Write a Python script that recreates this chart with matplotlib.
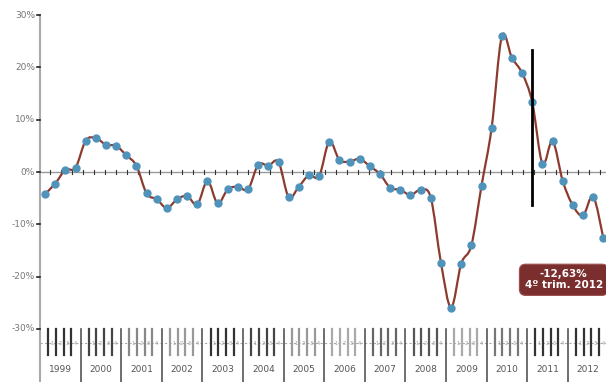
import matplotlib
matplotlib.use("Agg")
import matplotlib.pyplot as plt
from matplotlib.path import Path
from matplotlib.patches import PathPatch
import numpy as np

# Données trimestrielles (variation en %), 1999 T1 -> 2012 T4
years = [1999, 2000, 2001, 2002, 2003, 2004, 2005, 2006,
         2007, 2008, 2009, 2010, 2011, 2012]
values = [-4.2, -2.2, 0.4, 0.8,
          6.0, 6.5, 5.2, 5.0,
          3.2, 1.2, -4.1, -5.2,
          -6.9, -5.2, -4.6, -6.2,
          -1.7, -6.0, -3.3, -2.8,
          -3.3, 1.4, 1.2, 1.9,
          -4.8, -2.8, -0.6, -0.8,
          5.8, 2.3, 2.0, 2.5,
          1.1, -0.4, -3.0, -3.4,
          -4.4, -3.4, -4.9, -17.3,
          -25.9, -17.5, -14.0, -2.6,
          8.5, 25.9, 21.8, 18.9,
          13.3, 1.6, 5.9, -1.7,
          -6.4, -8.3, -4.7, -12.63]
yticks = [30, 20, 10, 0, -10, -20, -30]
ytick_labels = ["30%", "20%", "10%", "0%", "-10%", "-20%", "-30%"]
marker_q = 48          # trait vertical : 1er trim. 2011
marker_range = (23.3, -6.3)
note = "-12,63%\n4º trim. 2012"

# gris des barres trimestrielles par année
bar_grey = ["#333333", "#444444", "#888888", "#999999", "#333333", "#444444",
            "#999999", "#aaaaaa", "#666666", "#555555", "#aaaaaa", "#777777",
            "#333333", "#333333"]

line_col = "#8c3b2e"
dot_col = "#4f93bb"

fig = plt.figure(figsize=(6.06, 3.82), dpi=100)
ax = fig.add_axes([40 / 606, 0, 568.4 / 606, 1])
ax.set_xlim(0, 56)
ax.set_ylim(-40.13, 32.87)
ax.axis("off")

x = np.arange(len(values)) + 0.5
y = np.array(values)

# courbe lissée (Catmull-Rom -> Bézier)
pts = np.column_stack([x, y])
verts = [pts[0]]
codes = [Path.MOVETO]
n = len(pts)
for i in range(n - 1):
    p0 = pts[max(i - 1, 0)]
    p1 = pts[i]
    p2 = pts[i + 1]
    p3 = pts[min(i + 2, n - 1)]
    c1 = p1 + (p2 - p0) / 6
    c2 = p2 - (p3 - p1) / 6
    verts += [c1, c2, p2]
    codes += [Path.CURVE4] * 3
ax.add_patch(PathPatch(Path(verts, codes), facecolor="none",
                       edgecolor=line_col, lw=1.6, zorder=3))
ax.plot(x, y, "o", color=dot_col, ms=5, zorder=4)

# axe vertical et ligne zéro
ax.plot([0, 0], [-40.13, 30], color="#aaaaaa", lw=1.5, clip_on=False)
ax.plot([0, 56], [0, 0], color="#999999", lw=1, zorder=1)
for t in np.linspace(0.985, 55.17, 51):
    ax.plot([t, t], [-0.35, 0.35], color="#333333", lw=0.8, zorder=1)
for v, lab in zip(yticks, ytick_labels):
    ax.plot([-0.3, 0], [v, v], color="#222222", lw=1.2, clip_on=False)
    ax.text(-0.5, v, lab, ha="right", va="center", fontsize=6.5,
            color="#777777", clip_on=False)

# trait vertical noir
ax.plot([marker_q + 0.5, marker_q + 0.5], marker_range, color="black", lw=2, zorder=5)

# zone des étiquettes de l'axe des x
ax.plot([0, 56], [-32.7, -32.7], color="#aaaaaa", lw=0.8, ls=(0, (2, 2)))
for k, yr in enumerate(years):
    x0 = 4 * k
    for j in range(4):
        bx = x0 + 0.8 + j * 0.76
        ax.plot([bx, bx], [-30, -35], color=bar_grey[k], lw=1.6)
        ax.text(bx + 0.38, -32.7, str(j + 1), ha="center", va="center",
                fontsize=3.5, color="#999999")
    if k > 0:
        ax.plot([x0, x0], [-30, -40.13], color="#555555", lw=1.2)
    ax.text(x0 + 2, -37.8, str(yr), ha="center", va="center",
            fontsize=6.5, color="#555555")

# encadré
ax.text(51.6, -20.6, note, ha="center", va="center", fontsize=7.5,
        fontweight="bold", color="white", linespacing=1.1, zorder=6,
        bbox=dict(boxstyle="round,pad=0.5,rounding_size=0.6",
                  facecolor="#7a2e2e", edgecolor="#9a5050", lw=0.8))

fig.savefig("out.png", dpi=100)
